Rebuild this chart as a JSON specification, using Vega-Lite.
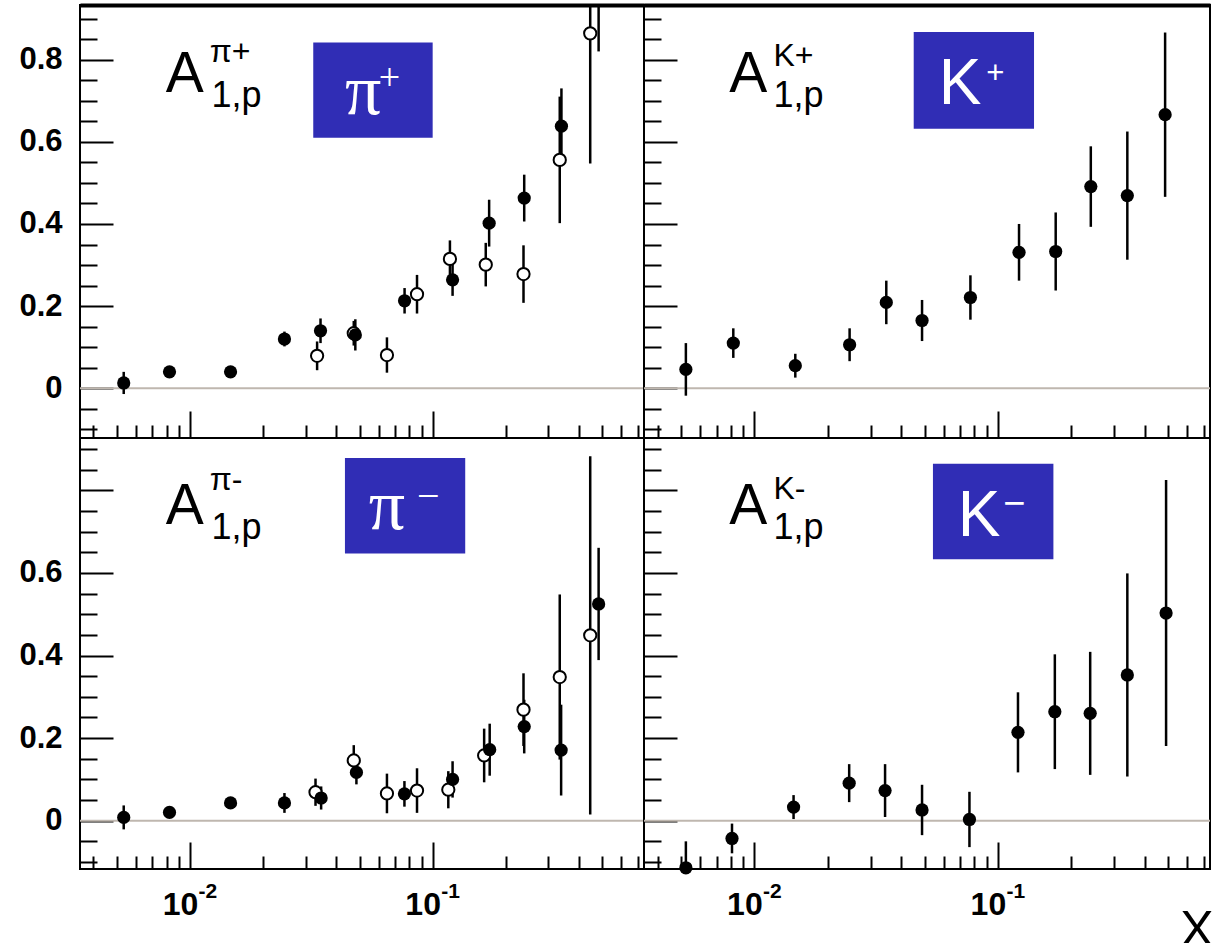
{
  "$schema": "https://vega.github.io/schema/vega-lite/v6.json",
  "autosize": {"type": "pad"},
  "padding": {"left": 17, "top": 4, "right": 0, "bottom": 0},
  "background": "white",
  "config": {
    "view": {"stroke": "black", "strokeWidth": 2},
    "axis": {"domain": false, "grid": false, "tickColor": "black", "tickWidth": 2, "labelColor": "black", "labelFont": "Liberation Sans", "labelFontWeight": "bold", "labelFlush": false, "labelOverlap": false}
  },
  "data": {"values": [
    {"p": "pip", "s": "f", "x": 0.00533, "y": 0.013, "lo": -0.014, "hi": 0.040},
    {"p": "pip", "s": "f", "x": 0.00823, "y": 0.040, "lo": 0.030, "hi": 0.050},
    {"p": "pip", "s": "f", "x": 0.01469, "y": 0.040, "lo": 0.030, "hi": 0.050},
    {"p": "pip", "s": "f", "x": 0.0245, "y": 0.120, "lo": 0.102, "hi": 0.138},
    {"p": "pip", "s": "f", "x": 0.0345, "y": 0.140, "lo": 0.110, "hi": 0.170},
    {"p": "pip", "s": "f", "x": 0.048, "y": 0.130, "lo": 0.092, "hi": 0.168},
    {"p": "pip", "s": "f", "x": 0.0766, "y": 0.213, "lo": 0.182, "hi": 0.244},
    {"p": "pip", "s": "f", "x": 0.1208, "y": 0.264, "lo": 0.225, "hi": 0.303},
    {"p": "pip", "s": "f", "x": 0.1709, "y": 0.402, "lo": 0.345, "hi": 0.459},
    {"p": "pip", "s": "f", "x": 0.2384, "y": 0.463, "lo": 0.406, "hi": 0.520},
    {"p": "pip", "s": "f", "x": 0.3394, "y": 0.638, "lo": 0.546, "hi": 0.730},
    {"p": "pip", "s": "f", "x": 0.483, "y": 1.000, "lo": 0.820, "hi": 1.180},
    {"p": "pip", "s": "o", "x": 0.0334, "y": 0.079, "lo": 0.044, "hi": 0.114},
    {"p": "pip", "s": "o", "x": 0.0473, "y": 0.134, "lo": 0.104, "hi": 0.164},
    {"p": "pip", "s": "o", "x": 0.0648, "y": 0.081, "lo": 0.038, "hi": 0.124},
    {"p": "pip", "s": "o", "x": 0.0862, "y": 0.229, "lo": 0.182, "hi": 0.276},
    {"p": "pip", "s": "o", "x": 0.1178, "y": 0.315, "lo": 0.270, "hi": 0.360},
    {"p": "pip", "s": "o", "x": 0.1655, "y": 0.301, "lo": 0.248, "hi": 0.354},
    {"p": "pip", "s": "o", "x": 0.2368, "y": 0.278, "lo": 0.208, "hi": 0.348},
    {"p": "pip", "s": "o", "x": 0.334, "y": 0.556, "lo": 0.402, "hi": 0.710},
    {"p": "pip", "s": "o", "x": 0.446, "y": 0.864, "lo": 0.547, "hi": 1.181},
    {"p": "kp", "s": "f", "x": 0.00523, "y": 0.046, "lo": -0.018, "hi": 0.110},
    {"p": "kp", "s": "f", "x": 0.00819, "y": 0.110, "lo": 0.074, "hi": 0.146},
    {"p": "kp", "s": "f", "x": 0.01472, "y": 0.055, "lo": 0.026, "hi": 0.084},
    {"p": "kp", "s": "f", "x": 0.0246, "y": 0.106, "lo": 0.066, "hi": 0.146},
    {"p": "kp", "s": "f", "x": 0.0348, "y": 0.209, "lo": 0.156, "hi": 0.262},
    {"p": "kp", "s": "f", "x": 0.0488, "y": 0.165, "lo": 0.115, "hi": 0.215},
    {"p": "kp", "s": "f", "x": 0.0771, "y": 0.221, "lo": 0.167, "hi": 0.275},
    {"p": "kp", "s": "f", "x": 0.1221, "y": 0.331, "lo": 0.262, "hi": 0.400},
    {"p": "kp", "s": "f", "x": 0.1727, "y": 0.333, "lo": 0.238, "hi": 0.428},
    {"p": "kp", "s": "f", "x": 0.2407, "y": 0.491, "lo": 0.393, "hi": 0.589},
    {"p": "kp", "s": "f", "x": 0.340, "y": 0.469, "lo": 0.313, "hi": 0.625},
    {"p": "kp", "s": "f", "x": 0.486, "y": 0.666, "lo": 0.466, "hi": 0.866},
    {"p": "pim", "s": "f", "x": 0.00533, "y": 0.008, "lo": -0.021, "hi": 0.037},
    {"p": "pim", "s": "f", "x": 0.00823, "y": 0.020, "lo": 0.010, "hi": 0.030},
    {"p": "pim", "s": "f", "x": 0.01469, "y": 0.043, "lo": 0.033, "hi": 0.053},
    {"p": "pim", "s": "f", "x": 0.0245, "y": 0.043, "lo": 0.019, "hi": 0.067},
    {"p": "pim", "s": "f", "x": 0.0347, "y": 0.055, "lo": 0.027, "hi": 0.083},
    {"p": "pim", "s": "f", "x": 0.0485, "y": 0.117, "lo": 0.088, "hi": 0.146},
    {"p": "pim", "s": "f", "x": 0.0765, "y": 0.065, "lo": 0.034, "hi": 0.096},
    {"p": "pim", "s": "f", "x": 0.1208, "y": 0.100, "lo": 0.056, "hi": 0.144},
    {"p": "pim", "s": "f", "x": 0.1718, "y": 0.172, "lo": 0.109, "hi": 0.235},
    {"p": "pim", "s": "f", "x": 0.2384, "y": 0.228, "lo": 0.163, "hi": 0.293},
    {"p": "pim", "s": "f", "x": 0.3384, "y": 0.171, "lo": 0.061, "hi": 0.281},
    {"p": "pim", "s": "f", "x": 0.483, "y": 0.525, "lo": 0.389, "hi": 0.661},
    {"p": "pim", "s": "o", "x": 0.0329, "y": 0.069, "lo": 0.036, "hi": 0.102},
    {"p": "pim", "s": "o", "x": 0.0473, "y": 0.146, "lo": 0.109, "hi": 0.183},
    {"p": "pim", "s": "o", "x": 0.0648, "y": 0.066, "lo": 0.018, "hi": 0.114},
    {"p": "pim", "s": "o", "x": 0.0862, "y": 0.073, "lo": 0.019, "hi": 0.127},
    {"p": "pim", "s": "o", "x": 0.116, "y": 0.075, "lo": 0.030, "hi": 0.120},
    {"p": "pim", "s": "o", "x": 0.163, "y": 0.158, "lo": 0.093, "hi": 0.223},
    {"p": "pim", "s": "o", "x": 0.2368, "y": 0.269, "lo": 0.181, "hi": 0.357},
    {"p": "pim", "s": "o", "x": 0.334, "y": 0.348, "lo": 0.148, "hi": 0.548},
    {"p": "pim", "s": "o", "x": 0.446, "y": 0.449, "lo": 0.015, "hi": 0.883},
    {"p": "km", "s": "f", "x": 0.00523, "y": -0.114, "lo": -0.178, "hi": -0.050},
    {"p": "km", "s": "f", "x": 0.00809, "y": -0.043, "lo": -0.079, "hi": -0.007},
    {"p": "km", "s": "f", "x": 0.01448, "y": 0.033, "lo": 0.004, "hi": 0.062},
    {"p": "km", "s": "f", "x": 0.0245, "y": 0.091, "lo": 0.045, "hi": 0.137},
    {"p": "km", "s": "f", "x": 0.0344, "y": 0.073, "lo": 0.009, "hi": 0.137},
    {"p": "km", "s": "f", "x": 0.0488, "y": 0.026, "lo": -0.035, "hi": 0.087},
    {"p": "km", "s": "f", "x": 0.0764, "y": 0.003, "lo": -0.064, "hi": 0.070},
    {"p": "km", "s": "f", "x": 0.1209, "y": 0.214, "lo": 0.117, "hi": 0.311},
    {"p": "km", "s": "f", "x": 0.1713, "y": 0.264, "lo": 0.125, "hi": 0.403},
    {"p": "km", "s": "f", "x": 0.2393, "y": 0.260, "lo": 0.111, "hi": 0.409},
    {"p": "km", "s": "f", "x": 0.340, "y": 0.353, "lo": 0.107, "hi": 0.599},
    {"p": "km", "s": "f", "x": 0.4905, "y": 0.503, "lo": 0.181, "hi": 0.825}
  ]},
  "columns": 2,
  "spacing": 0,
  "bounds": "flush",
  "concat": [
    {
      "width": 564, "height": 433,
      "resolve": {"axis": {"x": "independent", "y": "independent"}},
      "layer": [
        {"data": {"values": [{}]}, "mark": {"type": "rule", "color": "#bfb7af", "strokeWidth": 2},
         "encoding": {"y": {"datum": 0, "type": "quantitative", "scale": {"domain": [-0.121, 0.933], "nice": false, "zero": false}, "axis": null}}},
        {"transform": [{"filter": "datum.p == 'pip'"}],
         "mark": {"type": "rule", "color": "black", "strokeWidth": 2.5, "clip": true},
         "encoding": {
           "x": {"field": "x", "type": "quantitative", "scale": {"type": "log", "domain": [0.00352, 0.743], "nice": false},
                 "axis": {"orient": "bottom", "values": [0.01, 0.1], "tickSize": -27, "labels": false, "title": null}},
           "y": {"field": "lo", "type": "quantitative", "scale": {"domain": [-0.121, 0.933], "nice": false, "zero": false},
                 "axis": {"orient": "left", "values": [0, 0.2, 0.4, 0.6, 0.8], "tickSize": -33, "labelPadding": 51, "labelFontSize": 31, "labelExpr": "datum.value == 0 ? '0' : format(datum.value, '.1f')", "title": null}},
           "y2": {"field": "hi"}}},
        {"transform": [{"filter": "datum.p == 'pip' && datum.s == 'o' && datum.y < 0.93"}],
         "mark": {"type": "circle", "fill": "white", "stroke": "black", "strokeWidth": 2, "size": 150, "opacity": 1},
         "encoding": {"x": {"field": "x", "type": "quantitative", "axis": null}, "y": {"field": "y", "type": "quantitative", "axis": null}}},
        {"transform": [{"filter": "datum.p == 'pip' && datum.s == 'f' && datum.y < 0.93"}],
         "mark": {"type": "circle", "color": "black", "size": 175, "opacity": 1},
         "encoding": {
           "x": {"field": "x", "type": "quantitative", "axis": {"orient": "bottom", "values": [0.004, 0.005, 0.006, 0.007, 0.008, 0.009, 0.02, 0.03, 0.04, 0.05, 0.06, 0.07, 0.08, 0.09, 0.2, 0.3, 0.4, 0.5, 0.6, 0.7], "tickSize": -13, "labels": false, "title": null}},
           "y": {"field": "y", "type": "quantitative", "axis": {"orient": "left", "values": [-0.1, -0.05, 0.05, 0.1, 0.15, 0.25, 0.3, 0.35, 0.45, 0.5, 0.55, 0.65, 0.7, 0.75, 0.85, 0.9], "tickSize": -17, "labels": false, "title": null}}}},
        {"data": {"values": [{}]}, "mark": {"type": "rect", "color": "#302db5"},
         "encoding": {"x": {"datum": 0.0322, "type": "quantitative", "axis": {"orient": "top", "domain": true, "domainWidth": 4, "domainColor": "black", "ticks": false, "labels": false, "title": null}},
                      "x2": {"datum": 0.1}, "y": {"datum": 0.610, "type": "quantitative", "axis": null}, "y2": {"datum": 0.842}}},
        {"data": {"values": [{}]}, "mark": {"type": "text", "text": "π", "font": "Liberation Serif", "fontSize": 72, "color": "white", "align": "left", "baseline": "alphabetic"},
         "encoding": {"x": {"datum": 0.04355, "type": "quantitative", "axis": null}, "y": {"datum": 0.667, "type": "quantitative", "axis": null}}},
        {"data": {"values": [{}]}, "mark": {"type": "text", "text": "+", "font": "Liberation Serif", "fontSize": 38, "color": "white", "align": "center", "baseline": "alphabetic"},
         "encoding": {"x": {"datum": 0.0664, "type": "quantitative", "axis": null}, "y": {"datum": 0.725, "type": "quantitative", "axis": null}}},
        {"data": {"values": [{}]}, "mark": {"type": "text", "text": "A", "font": "Liberation Sans", "fontSize": 57, "color": "black", "align": "left", "baseline": "alphabetic"},
         "encoding": {"x": {"datum": 0.00795, "type": "quantitative", "axis": null}, "y": {"datum": 0.721, "type": "quantitative", "axis": null}}},
        {"data": {"values": [{}]}, "mark": {"type": "text", "text": "π+", "font": "Liberation Sans", "fontSize": 32, "color": "black", "align": "left", "baseline": "alphabetic"},
         "encoding": {"x": {"datum": 0.01205, "type": "quantitative", "axis": null}, "y": {"datum": 0.794, "type": "quantitative", "axis": null}}},
        {"data": {"values": [{}]}, "mark": {"type": "text", "text": "1,p", "font": "Liberation Sans", "fontSize": 36, "color": "black", "align": "left", "baseline": "alphabetic"},
         "encoding": {"x": {"datum": 0.01227, "type": "quantitative", "axis": null}, "y": {"datum": 0.684, "type": "quantitative", "axis": null}}}
      ]
    },
    {
      "width": 566, "height": 433,
      "resolve": {"axis": {"x": "independent", "y": "independent"}},
      "layer": [
        {"data": {"values": [{}]}, "mark": {"type": "rule", "color": "#bfb7af", "strokeWidth": 2},
         "encoding": {"y": {"datum": 0, "type": "quantitative", "scale": {"domain": [-0.121, 0.933], "nice": false, "zero": false}, "axis": null}}},
        {"transform": [{"filter": "datum.p == 'kp'"}],
         "mark": {"type": "rule", "color": "black", "strokeWidth": 2.5, "clip": true},
         "encoding": {
           "x": {"field": "x", "type": "quantitative", "scale": {"type": "log", "domain": [0.00352, 0.743], "nice": false},
                 "axis": {"orient": "bottom", "values": [0.01, 0.1], "tickSize": -27, "labels": false, "title": null}},
           "y": {"field": "lo", "type": "quantitative", "scale": {"domain": [-0.121, 0.933], "nice": false, "zero": false},
                 "axis": {"orient": "left", "values": [0, 0.2, 0.4, 0.6, 0.8], "tickSize": -33, "labels": false, "title": null}},
           "y2": {"field": "hi"}}},
        {"transform": [{"filter": "datum.p == 'kp' && datum.s == 'f' && datum.y < 0.93"}],
         "mark": {"type": "circle", "color": "black", "size": 175, "opacity": 1},
         "encoding": {
           "x": {"field": "x", "type": "quantitative", "axis": {"orient": "bottom", "values": [0.004, 0.005, 0.006, 0.007, 0.008, 0.009, 0.02, 0.03, 0.04, 0.05, 0.06, 0.07, 0.08, 0.09, 0.2, 0.3, 0.4, 0.5, 0.6, 0.7], "tickSize": -13, "labels": false, "title": null}},
           "y": {"field": "y", "type": "quantitative", "axis": {"orient": "left", "values": [-0.1, -0.05, 0.05, 0.1, 0.15, 0.25, 0.3, 0.35, 0.45, 0.5, 0.55, 0.65, 0.7, 0.75, 0.85, 0.9], "tickSize": -17, "labels": false, "title": null}}}},
        {"data": {"values": [{}]}, "mark": {"type": "rect", "color": "#302db5"},
         "encoding": {"x": {"datum": 0.0451, "type": "quantitative", "axis": {"orient": "top", "domain": true, "domainWidth": 4, "domainColor": "black", "ticks": false, "labels": false, "title": null}},
                      "x2": {"datum": 0.1407}, "y": {"datum": 0.632, "type": "quantitative", "axis": null}, "y2": {"datum": 0.867}}},
        {"data": {"values": [{}]}, "mark": {"type": "text", "text": "K", "font": "Liberation Sans", "fontSize": 64, "color": "white", "align": "left", "baseline": "alphabetic"},
         "encoding": {"x": {"datum": 0.0571, "type": "quantitative", "axis": null}, "y": {"datum": 0.692, "type": "quantitative", "axis": null}}},
        {"data": {"values": [{}]}, "mark": {"type": "text", "text": "+", "font": "Liberation Sans", "fontSize": 31, "color": "white", "align": "center", "baseline": "alphabetic"},
         "encoding": {"x": {"datum": 0.0975, "type": "quantitative", "axis": null}, "y": {"datum": 0.744, "type": "quantitative", "axis": null}}},
        {"data": {"values": [{}]}, "mark": {"type": "text", "text": "A", "font": "Liberation Sans", "fontSize": 57, "color": "black", "align": "left", "baseline": "alphabetic"},
         "encoding": {"x": {"datum": 0.00788, "type": "quantitative", "axis": null}, "y": {"datum": 0.721, "type": "quantitative", "axis": null}}},
        {"data": {"values": [{}]}, "mark": {"type": "text", "text": "K+", "font": "Liberation Sans", "fontSize": 32, "color": "black", "align": "left", "baseline": "alphabetic"},
         "encoding": {"x": {"datum": 0.01197, "type": "quantitative", "axis": null}, "y": {"datum": 0.785, "type": "quantitative", "axis": null}}},
        {"data": {"values": [{}]}, "mark": {"type": "text", "text": "1,p", "font": "Liberation Sans", "fontSize": 36, "color": "black", "align": "left", "baseline": "alphabetic"},
         "encoding": {"x": {"datum": 0.01197, "type": "quantitative", "axis": null}, "y": {"datum": 0.684, "type": "quantitative", "axis": null}}}
      ]
    },
    {
      "width": 564, "height": 431,
      "resolve": {"axis": {"x": "independent", "y": "independent"}},
      "layer": [
        {"data": {"values": [{}]}, "mark": {"type": "rule", "color": "#bfb7af", "strokeWidth": 2},
         "encoding": {"y": {"datum": 0, "type": "quantitative", "scale": {"domain": [-0.117, 0.927], "nice": false, "zero": false}, "axis": null}}},
        {"transform": [{"filter": "datum.p == 'pim'"}],
         "mark": {"type": "rule", "color": "black", "strokeWidth": 2.5, "clip": true},
         "encoding": {
           "x": {"field": "x", "type": "quantitative", "scale": {"type": "log", "domain": [0.00352, 0.743], "nice": false},
                 "axis": {"orient": "bottom", "values": [0.01, 0.1], "tickSize": -27, "labelExpr": "'10'", "labelPadding": 47, "labelOffset": -10, "labelFontSize": 32, "title": null}},
           "y": {"field": "lo", "type": "quantitative", "scale": {"domain": [-0.117, 0.927], "nice": false, "zero": false},
                 "axis": {"orient": "left", "values": [0, 0.2, 0.4, 0.6, 0.8], "tickSize": -33, "labelPadding": 51, "labelFontSize": 31, "labelExpr": "datum.value > 0.7 ? '' : (datum.value == 0 ? '0' : format(datum.value, '.1f'))", "title": null}},
           "y2": {"field": "hi"}}},
        {"transform": [{"filter": "datum.p == 'pim' && datum.s == 'o' && datum.y < 0.93"}],
         "mark": {"type": "circle", "fill": "white", "stroke": "black", "strokeWidth": 2, "size": 150, "opacity": 1},
         "encoding": {"x": {"field": "x", "type": "quantitative", "axis": null}, "y": {"field": "y", "type": "quantitative", "axis": null}}},
        {"transform": [{"filter": "datum.p == 'pim' && datum.s == 'f' && datum.y < 0.93"}],
         "mark": {"type": "circle", "color": "black", "size": 175, "opacity": 1},
         "encoding": {
           "x": {"field": "x", "type": "quantitative", "axis": {"orient": "bottom", "values": [0.004, 0.005, 0.006, 0.007, 0.008, 0.009, 0.02, 0.03, 0.04, 0.05, 0.06, 0.07, 0.08, 0.09, 0.2, 0.3, 0.4, 0.5, 0.6, 0.7], "tickSize": -13, "labels": false, "title": null}},
           "y": {"field": "y", "type": "quantitative", "axis": {"orient": "left", "values": [-0.1, -0.05, 0.05, 0.1, 0.15, 0.25, 0.3, 0.35, 0.45, 0.5, 0.55, 0.65, 0.7, 0.75, 0.85, 0.9], "tickSize": -17, "labels": false, "title": null}}}},
        {"data": {"values": [{}]}, "mark": {"type": "rect", "color": "#302db5"},
         "encoding": {"x": {"datum": 0.0435, "type": "quantitative", "axis": {"orient": "bottom", "values": [0.01, 0.1], "ticks": false, "labelExpr": "datum.value < 0.05 ? '-2' : '-1'", "labelPadding": 11, "labelOffset": 8, "labelAlign": "left", "labelFontSize": 21, "title": null}},
                      "x2": {"datum": 0.1362}, "y": {"datum": 0.647, "type": "quantitative", "axis": null}, "y2": {"datum": 0.8785}}},
        {"data": {"values": [{}]}, "mark": {"type": "text", "text": "π", "font": "Liberation Serif", "fontSize": 72, "color": "white", "align": "left", "baseline": "alphabetic"},
         "encoding": {"x": {"datum": 0.0545, "type": "quantitative", "axis": null}, "y": {"datum": 0.707, "type": "quantitative", "axis": null}}},
        {"data": {"values": [{}]}, "mark": {"type": "text", "text": "−", "font": "Liberation Serif", "fontSize": 40, "color": "white", "align": "center", "baseline": "alphabetic"},
         "encoding": {"x": {"datum": 0.096, "type": "quantitative", "axis": null}, "y": {"datum": 0.754, "type": "quantitative", "axis": null}}},
        {"data": {"values": [{}]}, "mark": {"type": "text", "text": "A", "font": "Liberation Sans", "fontSize": 57, "color": "black", "align": "left", "baseline": "alphabetic"},
         "encoding": {"x": {"datum": 0.00795, "type": "quantitative", "axis": null}, "y": {"datum": 0.719, "type": "quantitative", "axis": null}}},
        {"data": {"values": [{}]}, "mark": {"type": "text", "text": "π-", "font": "Liberation Sans", "fontSize": 32, "color": "black", "align": "left", "baseline": "alphabetic"},
         "encoding": {"x": {"datum": 0.01205, "type": "quantitative", "axis": null}, "y": {"datum": 0.80, "type": "quantitative", "axis": null}}},
        {"data": {"values": [{}]}, "mark": {"type": "text", "text": "1,p", "font": "Liberation Sans", "fontSize": 36, "color": "black", "align": "left", "baseline": "alphabetic"},
         "encoding": {"x": {"datum": 0.01227, "type": "quantitative", "axis": null}, "y": {"datum": 0.683, "type": "quantitative", "axis": null}}}
      ]
    },
    {
      "width": 566, "height": 431,
      "resolve": {"axis": {"x": "independent", "y": "independent"}},
      "layer": [
        {"data": {"values": [{}]}, "mark": {"type": "rule", "color": "#bfb7af", "strokeWidth": 2},
         "encoding": {"y": {"datum": 0, "type": "quantitative", "scale": {"domain": [-0.117, 0.927], "nice": false, "zero": false}, "axis": null}}},
        {"transform": [{"filter": "datum.p == 'km'"}],
         "mark": {"type": "rule", "color": "black", "strokeWidth": 2.5, "clip": true},
         "encoding": {
           "x": {"field": "x", "type": "quantitative", "scale": {"type": "log", "domain": [0.00352, 0.743], "nice": false},
                 "axis": {"orient": "bottom", "values": [0.01, 0.1], "tickSize": -27, "labelExpr": "'10'", "labelPadding": 47, "labelOffset": -10, "labelFontSize": 32,
                          "title": "X", "titleFont": "Liberation Sans", "titleFontSize": 50, "titleFontWeight": "normal", "titleColor": "black", "titleAlign": "right", "titleBaseline": "alphabetic", "titleX": 569, "titleY": 76}},
           "y": {"field": "lo", "type": "quantitative", "scale": {"domain": [-0.117, 0.927], "nice": false, "zero": false},
                 "axis": {"orient": "left", "values": [0, 0.2, 0.4, 0.6, 0.8], "tickSize": -33, "labels": false, "title": null}},
           "y2": {"field": "hi"}}},
        {"transform": [{"filter": "datum.p == 'km' && datum.s == 'f' && datum.y < 0.93"}],
         "mark": {"type": "circle", "color": "black", "size": 175, "opacity": 1},
         "encoding": {
           "x": {"field": "x", "type": "quantitative", "axis": {"orient": "bottom", "values": [0.004, 0.005, 0.006, 0.007, 0.008, 0.009, 0.02, 0.03, 0.04, 0.05, 0.06, 0.07, 0.08, 0.09, 0.2, 0.3, 0.4, 0.5, 0.6, 0.7], "tickSize": -13, "labels": false, "title": null}},
           "y": {"field": "y", "type": "quantitative", "axis": {"orient": "left", "values": [-0.1, -0.05, 0.05, 0.1, 0.15, 0.25, 0.3, 0.35, 0.45, 0.5, 0.55, 0.65, 0.7, 0.75, 0.85, 0.9], "tickSize": -17, "labels": false, "title": null}}}},
        {"data": {"values": [{}]}, "mark": {"type": "rect", "color": "#302db5"},
         "encoding": {"x": {"datum": 0.0541, "type": "quantitative", "axis": {"orient": "bottom", "values": [0.01, 0.1], "ticks": false, "labelExpr": "datum.value < 0.05 ? '-2' : '-1'", "labelPadding": 11, "labelOffset": 8, "labelAlign": "left", "labelFontSize": 21, "title": null}},
                      "x2": {"datum": 0.169}, "y": {"datum": 0.633, "type": "quantitative", "axis": null}, "y2": {"datum": 0.8647}}},
        {"data": {"values": [{}]}, "mark": {"type": "text", "text": "K", "font": "Liberation Sans", "fontSize": 64, "color": "white", "align": "left", "baseline": "alphabetic"},
         "encoding": {"x": {"datum": 0.0684, "type": "quantitative", "axis": null}, "y": {"datum": 0.6895, "type": "quantitative", "axis": null}}},
        {"data": {"values": [{}]}, "mark": {"type": "text", "text": "−", "font": "Liberation Sans", "fontSize": 38, "color": "white", "align": "center", "baseline": "alphabetic"},
         "encoding": {"x": {"datum": 0.1167, "type": "quantitative", "axis": null}, "y": {"datum": 0.737, "type": "quantitative", "axis": null}}},
        {"data": {"values": [{}]}, "mark": {"type": "text", "text": "A", "font": "Liberation Sans", "fontSize": 57, "color": "black", "align": "left", "baseline": "alphabetic"},
         "encoding": {"x": {"datum": 0.00788, "type": "quantitative", "axis": null}, "y": {"datum": 0.719, "type": "quantitative", "axis": null}}},
        {"data": {"values": [{}]}, "mark": {"type": "text", "text": "K-", "font": "Liberation Sans", "fontSize": 32, "color": "black", "align": "left", "baseline": "alphabetic"},
         "encoding": {"x": {"datum": 0.01197, "type": "quantitative", "axis": null}, "y": {"datum": 0.78, "type": "quantitative", "axis": null}}},
        {"data": {"values": [{}]}, "mark": {"type": "text", "text": "1,p", "font": "Liberation Sans", "fontSize": 36, "color": "black", "align": "left", "baseline": "alphabetic"},
         "encoding": {"x": {"datum": 0.01197, "type": "quantitative", "axis": null}, "y": {"datum": 0.683, "type": "quantitative", "axis": null}}}
      ]
    }
  ]
}
